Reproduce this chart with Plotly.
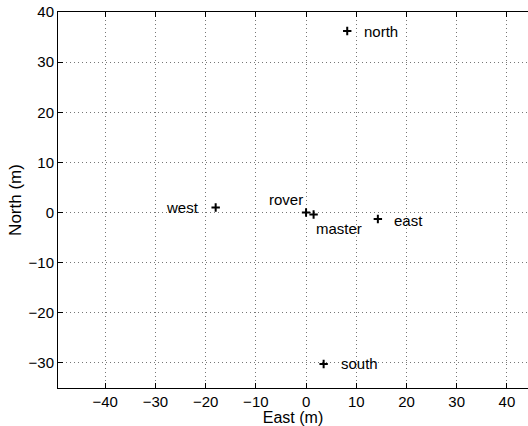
import plotly.graph_objects as go

# Surveyed antenna positions in local East/North coordinates (metres)
names = ["north", "west", "rover", "master", "east", "south"]
east_m = [8.2, -18.0, 0.0, 1.5, 14.3, 3.5]
north_m = [36.2, 1.0, 0.0, -0.4, -1.3, -30.2]

x_ticks = [-40, -30, -20, -10, 0, 10, 20, 30, 40]
y_ticks = [-30, -20, -10, 0, 10, 20, 30, 40]

# label placement per point: (xshift px, yshift px, xanchor)
label_place = {
    "north": (15, 0, "left"),
    "west": (-15, 0, "right"),
    "rover": (-1, 13, "right"),
    "master": (0, -14, "left"),
    "east": (14, -1, "left"),
    "south": (15, 0, "left"),
}

FONT = "Liberation Sans, Arial, Helvetica, sans-serif"

fig = go.Figure(
    go.Scatter(
        x=east_m,
        y=north_m,
        mode="markers",
        marker=dict(symbol="cross-thin", size=6,
                    line=dict(width=2, color="black"), color="black"),
        hoverinfo="skip",
        showlegend=False,
    )
)

for n, xe, yn in zip(names, east_m, north_m):
    dx, dy, anchor = label_place[n]
    fig.add_annotation(
        x=xe, y=yn, text=n, showarrow=False,
        xanchor=anchor, yanchor="middle", xshift=dx, yshift=dy,
        font=dict(family=FONT, size=15, color="black"),
    )

axis_common = dict(
    showgrid=True,
    gridcolor="#777777",
    griddash="1px,3px",
    gridwidth=1,
    zeroline=False,
    showline=True,
    linecolor="black",
    linewidth=1,
    ticks="inside",
    ticklen=5,
    tickcolor="black",
    tickfont=dict(family=FONT, size=15, color="black"),
)

fig.update_xaxes(
    **axis_common,
    range=[-49.4, 44.2],
    tickvals=x_ticks,
    mirror="ticks",
    title=dict(text="East (m)", font=dict(family=FONT, size=16, color="black"), standoff=3),
    automargin=False,
)
fig.update_yaxes(
    **axis_common,
    range=[-35, 40],
    tickvals=y_ticks,
    mirror=False,
    title=dict(text="North (m)", font=dict(family=FONT, size=17, color="black"), standoff=2),
    automargin=False,
)

fig.update_layout(
    width=528,
    height=426,
    margin=dict(l=58, r=0, t=12, b=38),
    paper_bgcolor="white",
    plot_bgcolor="white",
)

fig.write_html("out.html")
